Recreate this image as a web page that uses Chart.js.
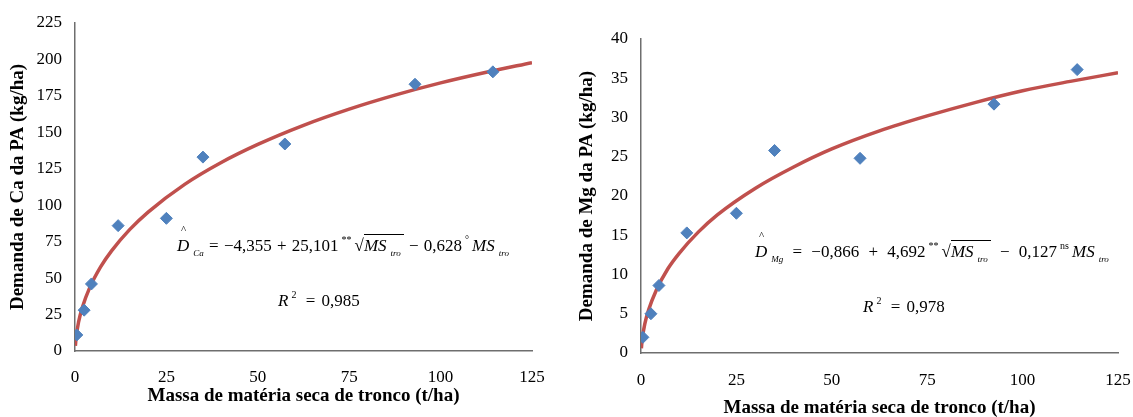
<!DOCTYPE html>
<html>
<head>
  <title>Demanda de Ca e Mg da PA</title>
  <script src="https://cdn.jsdelivr.net/npm/chart.js"></script>
  <style>
    body { margin: 0; background: #fff; width: 1133px; height: 417px; overflow: hidden; position: relative; font-family: "Liberation Serif", serif; }
    .box { position: absolute; top: 0; height: 417px; }
    .eq { position: absolute; font-size: 17px; white-space: nowrap; color: #000; }
    .eq i { font-style: italic; }
    .sub { font-size: 9px; font-style: italic; position: relative; top: 5px; margin-left: 4px; }
    .sup { font-size: 10px; position: relative; top: -8px; margin: 0 3px; }
    .hat { position: relative; }
    .hat span { position: absolute; left: 4px; top: -13px; font-size: 11px; }
    .root { border-top: 1px solid #000; padding-top: 1px; padding-right: 3px; }
  </style>
</head>
<body>
  <div class="box" style="left:0;width:560px"><canvas id="ca"></canvas></div>
  <div class="box" style="left:560px;width:573px"><canvas id="mg"></canvas></div>

  <div class="eq" style="left:177px;top:236px;word-spacing:1px">
    <span class="hat"><i>D</i><span>^</span></span><span class="sub">Ca</span>
    = &minus;4,355 + 25,101<span class="sup">**</span>&radic;<span class="root"><i>MS</i><span class="sub">tro</span></span>
    &minus; 0,628<span class="sup">&deg;</span><i>MS</i><span class="sub">tro</span>
  </div>
  <div class="eq" style="left:278px;top:291px;word-spacing:2px"><i>R</i><span class="sup">2</span> = 0,985</div>

  <div class="eq" style="left:755px;top:242px;word-spacing:5px">
    <span class="hat"><i>D</i><span>^</span></span><span class="sub">Mg</span>
    = &minus;0,866 + 4,692<span class="sup">**</span>&radic;<span class="root"><i>MS</i><span class="sub">tro</span></span>
    &minus; 0,127<span class="sup">ns</span><i>MS</i><span class="sub">tro</span>
  </div>
  <div class="eq" style="left:863px;top:297px;word-spacing:2px"><i>R</i><span class="sup">2</span> = 0,978</div>

  <script>
    // observed points
    const caX = [0.5, 2.5, 4.5, 11.8, 25, 35, 57.4, 93, 114.3];
    const caY = [11, 28, 46, 86, 91, 133, 142, 183, 191.5];
    const mgX = [0.5, 2.6, 4.7, 12, 25, 35, 57.4, 92.5, 114.3];
    const mgY = [2.0, 5.0, 8.6, 15.3, 17.8, 25.8, 24.8, 31.7, 36.1];

    // fitted curves
    const fitX = [0.1, 0.3, 1, 2, 4, 7, 10, 15, 20, 30, 40, 50, 62.5, 75, 87.5, 100, 112.5, 125];
    const caFit = [3.5, 9.2, 20.1, 29.9, 43.3, 57.7, 68.7, 83.4, 95.3, 114.3, 129.3, 141.7, 154.8, 165.9, 175.5, 183.9, 191.2, 197.8];
    const mgFit = [0.6, 1.7, 3.7, 5.5, 8.0, 10.7, 12.7, 15.4, 17.6, 21.0, 23.7, 26.0, 28.3, 30.2, 31.9, 33.4, 34.6, 35.7];

    const xTitle = 'Massa de matéria seca de tronco (t/ha)';

    function pts(xs, ys) {
      return xs.map((x, i) => ({ x: x, y: ys[i] }));
    }

    function makeChart(id, obs, fit, yMax, yStep, yTitle, lay) {
      new Chart(document.getElementById(id), {
        type: 'scatter',
        data: {
          datasets: [
            {
              data: obs,
              pointStyle: 'rectRot',
              pointRadius: 6,
              backgroundColor: '#4F81BD',
              borderColor: '#4F81BD',
              borderWidth: 1,
            },
            {
              data: fit,
              showLine: true,
              pointRadius: 0,
              borderColor: '#C0504D',
              borderWidth: 3.5,
              cubicInterpolationMode: 'monotone',
            },
          ],
        },
        options: {
          responsive: true,
          maintainAspectRatio: false,
          animation: false,
          layout: { padding: { top: lay.top, right: lay.right, left: 0, bottom: 0 } },
          plugins: { legend: { display: false }, tooltip: { enabled: false } },
          scales: {
            x: {
              type: 'linear',
              min: 0,
              max: 125,
              afterFit: s => { s.height = lay.xh; s.paddingRight = 0; },
              ticks: { stepSize: 25, color: '#000', padding: lay.xtp, font: { family: 'Liberation Serif', size: 17 } },
              grid: { display: false, drawTicks: true, tickLength: 5, color: '#6e6e6e' },
              border: { color: '#6e6e6e', width: 1.5 },
              title: { display: true, text: xTitle, color: '#000', padding: { top: 0, bottom: lay.xtb }, font: { family: 'Liberation Serif', size: 19, weight: 'bold' } },
            },
            y: {
              min: 0,
              max: yMax,
              afterFit: s => { s.width = lay.yw; },
              ticks: { stepSize: yStep, color: '#000', padding: 8, font: { family: 'Liberation Serif', size: 17 } },
              grid: { display: false, drawTicks: true, tickLength: 5, color: '#6e6e6e' },
              border: { color: '#6e6e6e', width: 1.5 },
              title: { display: true, text: yTitle, color: '#000', padding: { top: lay.ytt, bottom: 0 }, font: { family: 'Liberation Serif', size: 19, weight: 'bold' } },
            },
          },
        },
      });
    }

    makeChart('ca', pts(caX, caY), pts(fitX, caFit), 225, 25, 'Demanda de Ca da PA (kg/ha)',
      { top: 23, right: 28, xh: 66, yw: 75, xtp: 11, xtb: 10, ytt: 7 });
    makeChart('mg', pts(mgX, mgY), pts(fitX, mgFit), 40, 5, 'Demanda de Mg da PA (kg/ha)',
      { top: 39, right: 15, xh: 64, yw: 81, xtp: 12, xtb: -2, ytt: 16 });
  </script>
</body>
</html>
